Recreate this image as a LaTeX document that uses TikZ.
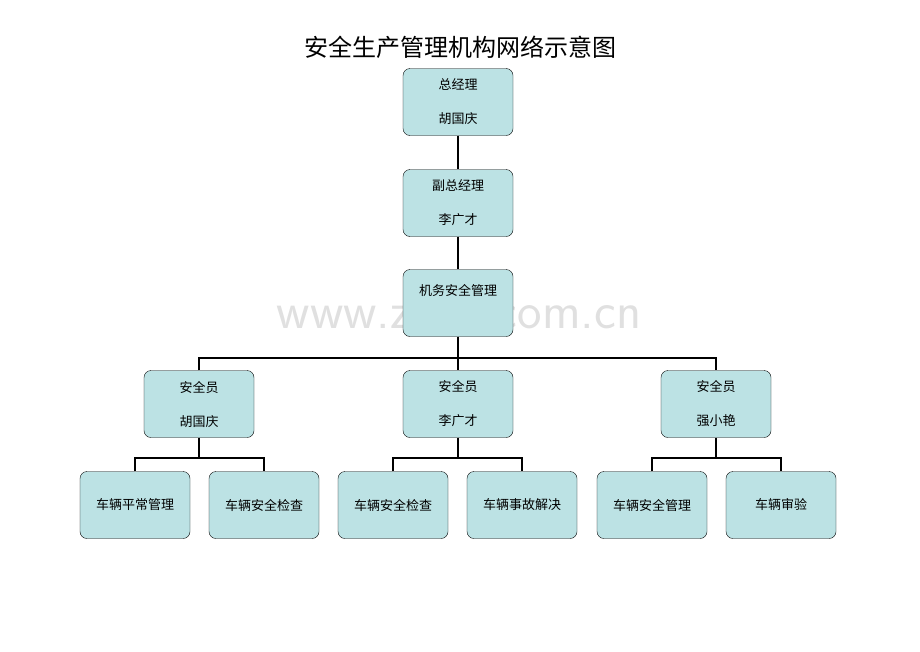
\documentclass[tikz,border=0pt]{standalone}
\usepackage{fontspec}
\setmainfont{Noto Sans CJK SC}
\definecolor{boxfill}{RGB}{188,226,228}
\tikzset{
  post/.style={draw=black, fill=boxfill, rounded corners=7pt, minimum width=110pt,
    minimum height=67pt, align=center, font={\fontsize{13}{15}\selectfont}},
  link/.style={line width=1.6pt}
}
\begin{document}
\begin{tikzpicture}[x=1pt, y=-1pt]
\useasboundingbox (0,0) rectangle (920,651);

\node (title) at (460,47) {\fontsize{24}{26}\selectfont 安全生产管理机构网络示意图};
\node [text=black!12, font={\fontsize{52}{52}\selectfont\sffamily}] (mark) at (459,312) {www.zixin.com.cn};

\node [post] (gm) at (458,102) {总经理\\[19pt]胡国庆};
\node [post] (vgm) at (458,203) {副总经理\\[19pt]李广才};
\node [post, text depth=26pt] (dept) at (458,303) {机务安全管理};

\node [post] (sa) at (199,404) {安全员\\[19pt]胡国庆};
\node [post] (sb) at (458,404) {安全员\\[19pt]李广才};
\node [post] (sc) at (716,404) {安全员\\[19pt]强小艳};

\node [post] (ta) at (135,505) {车辆平常管理};
\node [post] (tb) at (264,505) {车辆安全检查};
\node [post] (tc) at (393,505) {车辆安全检查};
\node [post] (td) at (522,505) {车辆事故解决};
\node [post] (te) at (652,505) {车辆安全管理};
\node [post] (tf) at (781,505) {车辆审验};

\draw [link] (gm) -- (vgm);
\draw [link] (vgm) -- (dept);
\coordinate (hub) at (458,358);
\draw [link] (dept) -- (hub);
\draw [link] (sa.north) |- (hub) -| (sc.north);
\draw [link] (hub) -- (sb);

% lower brackets
\foreach \up/\l/\r in {sa/ta/tb, sb/tc/td, sc/te/tf} {
  \coordinate (m\up) at ([yshift=-20pt]\up.south);
  \draw [link] (\up) -- (m\up);
  \draw [link] (\l.north) |- (m\up) -| (\r.north);
}
\end{tikzpicture}
\end{document}
